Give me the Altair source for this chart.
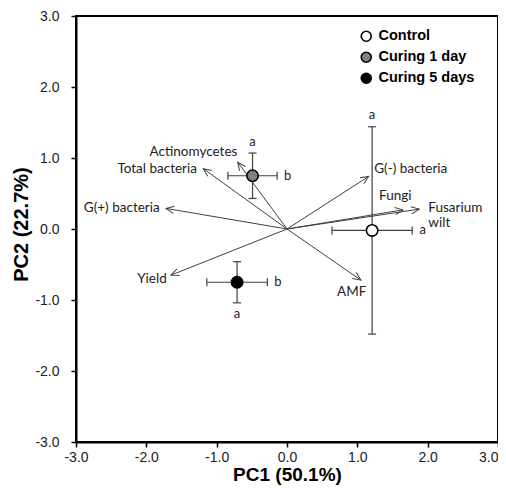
import altair as alt
import numpy as np
import pandas as pd

# ---- data ----
groups = ["Control", "Curing 1 day", "Curing 5 days"]
pc1 = [1.21, -0.49, -0.71]
pc2 = [-0.02, 0.75, -0.75]
pc1_err = [0.57, 0.35, 0.43]
pc2_err = [1.46, 0.32, 0.29]
letter_x = ["a", "b", "b"]          # letter right of horizontal bar
letter_y = ["a", "a", "a"]          # letter above/below vertical bar
letter_y_side = [1, 1, -1]          # 1 = above, -1 = below

variables = ["Actinomycetes", "Total bacteria", "G(+) bacteria", "Yield",
             "AMF", "G(-) bacteria", "Fungi", "Fusarium\nwilt"]
vec_x = [-0.70, -1.19, -1.72, -1.65, 1.05, 1.16, 1.65, 1.88]
vec_y = [0.94, 0.85, 0.29, -0.65, -0.72, 0.74, 0.27, 0.28]
label_x = [-1.33, -1.28, -1.81, -1.71, 0.92, 1.24, 1.54, 2.01]
label_y = [1.09, 0.85, 0.29, -0.70, -0.89, 0.85, 0.46, 0.30]
label_align = ["center", "right", "right", "right", "center", "left", "center", "left"]

ticks = [-3, -2, -1, 0, 1, 2, 3]

W, H = 422, 426
kx, ky = W / 6.0, H / 6.0

grp = pd.DataFrame({
    "group": groups, "x": pc1, "y": pc2,
    "xlo": np.array(pc1) - np.array(pc1_err), "xhi": np.array(pc1) + np.array(pc1_err),
    "ylo": np.array(pc2) - np.array(pc2_err), "yhi": np.array(pc2) + np.array(pc2_err),
    "lx": letter_x, "ly": letter_y,
})
grp["lx_pos"] = grp["xhi"] + 0.15
grp["ly_pos"] = grp["y"] + np.array(letter_y_side) * (np.array(pc2_err) + 0.16)

vec = pd.DataFrame({"var": variables, "x": vec_x, "y": vec_y,
                    "lx": label_x, "ly": label_y, "align": label_align})
vec["x0"] = 0.0
vec["y0"] = 0.0
vec["ang"] = np.degrees(np.arctan2(np.array(vec_x) * kx, np.array(vec_y) * ky)) % 360

xs = alt.Scale(domain=[-3, 3], nice=False, zero=False)
ys = alt.Scale(domain=[-3, 3], nice=False, zero=False)
lab_expr = "(datum.value < 0 ? '-' : '') + format(abs(datum.value), '.1f')"

x_axis = alt.Axis(values=ticks, labelExpr=lab_expr, title="PC1 (50.1%)", grid=False,
                  tickSize=5, labelPadding=3, titlePadding=1, labelFlush=False,
                  titleFontSize=19,
                  labelAlign={"condition": {"test": "datum.value == 3", "value": "right"},
                              "value": "center"})
y_axis = alt.Axis(values=ticks, labelExpr=lab_expr, title="PC2 (22.7%)", grid=False,
                  tickSize=5, labelPadding=12, titlePadding=3, labelFlush=False,
                  titleY=208)

line_col = "#404040"
txt_col = "#222222"

arrows = alt.Chart(vec).mark_rule(color=line_col, strokeWidth=1).encode(
    x=alt.X("x0:Q", scale=xs, axis=x_axis), y=alt.Y("y0:Q", scale=ys, axis=y_axis),
    x2="x:Q", y2="y:Q")

heads = alt.Chart(vec).mark_point(shape="M-0.45,1L0,0L0.45,1", filled=False, size=256,
                                  color=line_col, strokeWidth=1, opacity=1).encode(
    x=alt.X("x:Q", scale=xs), y=alt.Y("y:Q", scale=ys),
    angle=alt.Angle("ang:Q", scale=None))

vlabels = []
for al in ["left", "center", "right"]:
    vlabels.append(
        alt.Chart(vec).transform_filter(alt.datum.align == al)
        .mark_text(align=al, baseline="middle", font="Lato", fontSize=13.5,
                   color=txt_col, lineBreak="\n", lineHeight=15)
        .encode(x=alt.X("lx:Q", scale=xs), y=alt.Y("ly:Q", scale=ys), text="var:N"))

ebar_x = alt.Chart(grp).mark_rule(color=line_col, strokeWidth=1.2).encode(
    x=alt.X("xlo:Q", scale=xs), x2="xhi:Q", y=alt.Y("y:Q", scale=ys))
ebar_y = alt.Chart(grp).mark_rule(color=line_col, strokeWidth=1.2).encode(
    y=alt.Y("ylo:Q", scale=ys), y2="yhi:Q", x=alt.X("x:Q", scale=xs))

cap_base = alt.Chart(grp)
caps = []
for c in ["xlo", "xhi"]:
    caps.append(cap_base.mark_tick(orient="vertical", size=8, thickness=1.2, color=line_col, opacity=1)
                .encode(x=alt.X(f"{c}:Q", scale=xs), y=alt.Y("y:Q", scale=ys)))
for c in ["ylo", "yhi"]:
    caps.append(cap_base.mark_tick(orient="horizontal", size=8, thickness=1.2, color=line_col, opacity=1)
                .encode(y=alt.Y(f"{c}:Q", scale=ys), x=alt.X("x:Q", scale=xs)))

pts = alt.Chart(grp).mark_point(filled=True, size=130, stroke="black", strokeWidth=1.6,
                                opacity=1, shape="circle").encode(
    x=alt.X("x:Q", scale=xs), y=alt.Y("y:Q", scale=ys),
    fill=alt.Fill("group:N", scale=alt.Scale(domain=groups, range=["white", "#808080", "black"]),
                  legend=alt.Legend(orient="none", legendX=283, legendY=13, title=None,
                                    symbolType="circle", symbolSize=100,
                                    symbolStrokeColor="black", symbolStrokeWidth=1.6,
                                    labelFont="Liberation Sans", labelFontSize=14.5,
                                    labelFontWeight="bold", labelColor="black",
                                    rowPadding=4, labelOffset=5)))

lt_x = alt.Chart(grp).mark_text(font="Lato", fontSize=13, color=txt_col, baseline="middle").encode(
    x=alt.X("lx_pos:Q", scale=xs), y=alt.Y("y:Q", scale=ys), text="lx:N")
lt_y = alt.Chart(grp).mark_text(font="Lato", fontSize=13, color=txt_col, baseline="middle").encode(
    x=alt.X("x:Q", scale=xs), y=alt.Y("ly_pos:Q", scale=ys), text="ly:N")

chart = alt.layer(arrows, heads, *vlabels, ebar_x, ebar_y, *caps, pts, lt_x, lt_y).properties(
    width=W, height=H, background="white",
    autosize=alt.AutoSizeParams(type="none"),
    padding={"left": 68, "top": 8, "right": 0, "bottom": 43}
).configure_view(stroke="black", strokeWidth=2).configure_axis(
    domainColor="black", domainWidth=2, tickColor="black", tickWidth=1.5,
    labelFont="Liberation Sans", labelFontSize=14, labelColor="#222222",
    titleFont="Liberation Sans", titleFontSize=20, titleFontWeight="bold", titleColor="black"
)

chart.save("out.html", embed_options={"renderer": "svg", "actions": False})
